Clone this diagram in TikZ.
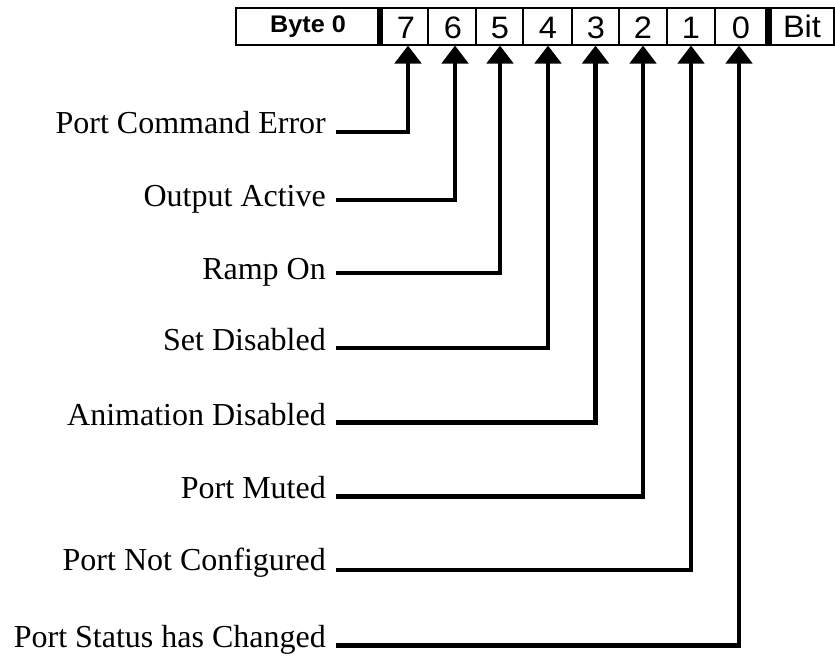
\documentclass[tikz,border=0pt]{standalone}
\usepackage{fontspec}
\usetikzlibrary{arrows.meta}
\newfontfamily\lblfont{Liberation Serif}
\newfontfamily\hdrfont{Liberation Sans}[FakeStretch=1.05]
\begin{document}
\begin{tikzpicture}[x=1pt,y=-1pt,
  cellbox/.style={draw, line width=2pt, minimum height=37pt, inner sep=0pt, anchor=center},
  digit/.style={font=\hdrfont\fontsize{31}{31}\selectfont, anchor=base, inner sep=0pt},
  bytetxt/.style={font=\hdrfont\bfseries\fontsize{24}{24}\selectfont, anchor=base, inner sep=0pt},
  lbl/.style={font=\lblfont\fontsize{32}{32}\selectfont, anchor=base east, inner sep=0pt},
  conn/.style={line width=4.5pt, line join=miter, -{Triangle[width=26pt,length=18pt]}},
  bar/.style={fill=black, draw=none}]
\useasboundingbox (0,0) rectangle (835,657);
% header cells
\node[cellbox, minimum width=144pt] (cb) at (308,26) {};
\node[cellbox, minimum width=48pt] (c7) at (404,26) {};
\node[cellbox, minimum width=48pt] (c6) at (452,26) {};
\node[cellbox, minimum width=47pt] (c5) at (499.5,26) {};
\node[cellbox, minimum width=49pt] (c4) at (547.5,26) {};
\node[cellbox, minimum width=47pt] (c3) at (595.5,26) {};
\node[cellbox, minimum width=48pt] (c2) at (643,26) {};
\node[cellbox, minimum width=48pt] (c1) at (691,26) {};
\node[cellbox, minimum width=53pt] (c0) at (741.5,26) {};
\node[cellbox, minimum width=66pt] (cbit) at (801,26) {};
\fill[bar] (377,7.5) rectangle (383,44.5);
\fill[bar] (765,7.5) rectangle (772,44.5);
% header texts
\node[bytetxt] (tb) at (308,32) {Byte 0};
\node[digit] (t7) at (406,38) {7};
\node[digit] (t6) at (453,38) {6};
\node[digit] (t5) at (500,38) {5};
\node[digit] (t4) at (548,38) {4};
\node[digit] (t3) at (596,38) {3};
\node[digit] (t2) at (643,38) {2};
\node[digit] (t1) at (691,38) {1};
\node[digit] (t0) at (741,38) {0};
\node[digit] (tbit) at (802,37) {Bit};
% labels
\node[lbl] (l7) at (326,133) {Port Command Error};
\node[lbl] (l6) at (326,206) {Output Active};
\node[lbl] (l5) at (326,279) {Ramp On};
\node[lbl] (l4) at (326,350) {Set Disabled};
\node[lbl] (l3) at (326,425) {Animation Disabled};
\node[lbl] (l2) at (326,498) {Port Muted};
\node[lbl] (l1) at (326,570) {Port Not Configured};
\node[lbl] (l0) at (326,647) {Port Status has Changed};
% connectors
\draw[conn] ([xshift=10pt,yshift=1pt]l7.base east) -| ([xshift=4pt]c7.south);
\draw[conn] ([xshift=10pt,yshift=6pt]l6.base east) -| ([xshift=3pt]c6.south);
\draw[conn] ([xshift=10pt,yshift=6pt]l5.base east) -| ([xshift=0.5pt]c5.south);
\draw[conn] ([xshift=10pt,yshift=2pt]l4.base east) -| ([xshift=0.5pt]c4.south);
\draw[conn] ([xshift=10pt,yshift=2.5pt]l3.base east) -| (c3.south);
\draw[conn] ([xshift=10pt,yshift=1.5pt]l2.base east) -| (c2.south);
\draw[conn] ([xshift=10pt,yshift=0pt]l1.base east) -| (c1.south);
\draw[conn] ([xshift=10pt,yshift=1.5pt]l0.base east) -| ([xshift=-2.5pt]c0.south);
\end{tikzpicture}
\end{document}
